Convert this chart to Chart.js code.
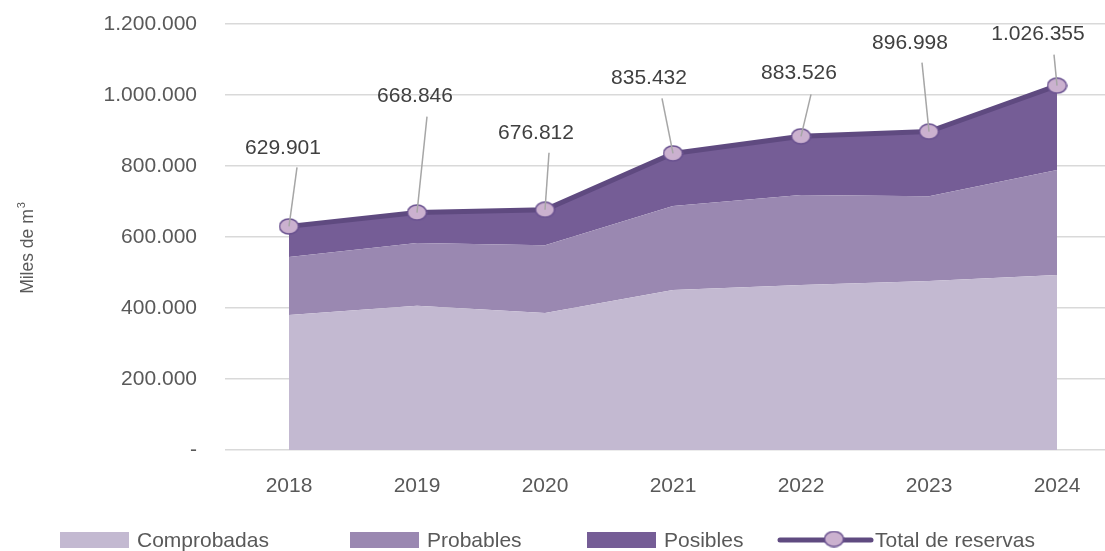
<!DOCTYPE html>
<html>
<head>
<meta charset="utf-8">
<script src="https://cdn.jsdelivr.net/npm/chart.js@4.4.1/dist/chart.umd.min.js"></script>
<style>
  html, body { margin: 0; padding: 0; background: #ffffff; }
  #wrap { width: 1105px; height: 551px; overflow: hidden; position: relative; }
  canvas { display: block; }
</style>
</head>
<body>
<div id="wrap"><canvas id="c" width="1134" height="551"></canvas></div>
<script>
// ---- data ----
const years = ['2018', '2019', '2020', '2021', '2022', '2023', '2024'];
const comprobadas = [380000, 406000, 386000, 451000, 465000, 476000, 493000];
const probables = [164000, 177000, 191000, 236000, 253000, 239000, 296000];
const posibles = [85901, 85846, 99812, 148432, 165526, 181998, 237355];
const totalReservas = [629901, 668846, 676812, 835432, 883526, 896998, 1026355];
const yTickValues = [0, 200000, 400000, 600000, 800000, 1000000, 1200000];
const seriesNames = ['Comprobadas', 'Probables', 'Posibles', 'Total de reservas'];
const axisTitle = 'Miles de m';
const axisTitleSup = '3';

// ---- layout / style constants (not data) ----
// label centre dx, dy and leader-line end dx, dy relative to each point
const labelLayout = [
  [-6, -78, 8, -59],
  [-2, -116, 10, -96],
  [-9, -77, 4, -57],
  [-24, -75, -11, -55],
  [-2, -63, 10, -42],
  [-19, -88, -7, -69],
  [-19, -51, -3, -31]
];
const legendStarts = [60, 350, 587, 778];
const FONT = '"Liberation Sans", Arial, Helvetica, sans-serif';
const colComp = '#c3b9d1';
const colProb = '#9a88b1';
const colPos = '#755d96';
const colLine = '#5f4a80';
const colPtFill = '#cbb1cf';
const colPtStroke = '#6a5290';

const fmt = v => v === 0 ? '-' : String(v).replace(/\B(?=(\d{3})+(?!\d))/g, '.');

function ellipseImg(w, h) {
  const c = document.createElement('canvas');
  c.width = w; c.height = h;
  const x = c.getContext('2d');
  x.beginPath();
  x.ellipse(w / 2, h / 2, w / 2 - 1, h / 2 - 1, 0, 0, Math.PI * 2);
  x.fillStyle = colPtFill;
  x.fill();
  x.lineWidth = 1.5;
  x.strokeStyle = colPtStroke;
  x.stroke();
  return c;
}
const ptImg = ellipseImg(21, 17);

Chart.defaults.font.family = FONT;
Chart.defaults.font.size = 21;
Chart.defaults.color = '#595959';

const labelPlugin = {
  id: 'totalLabels',
  afterDatasetsDraw(chart) {
    const meta = chart.getDatasetMeta(0);
    const data = chart.data.datasets[0].data;
    const ctx = chart.ctx;
    ctx.save();
    meta.data.forEach((pt, i) => {
      const o = labelLayout[i];
      ctx.strokeStyle = '#a6a6a6';
      ctx.lineWidth = 1.5;
      ctx.beginPath();
      ctx.moveTo(pt.x, pt.y);
      ctx.lineTo(pt.x + o[2], pt.y + o[3]);
      ctx.stroke();
      ctx.fillStyle = '#404040';
      ctx.font = '21px ' + FONT;
      ctx.textAlign = 'center';
      ctx.textBaseline = 'middle';
      ctx.fillText(fmt(data[i]), pt.x + o[0], pt.y + o[1]);
    });
    ctx.restore();
  }
};

const extrasPlugin = {
  id: 'extras',
  afterDraw(chart) {
    const ctx = chart.ctx;
    ctx.save();
    // y axis title
    ctx.translate(27, 248);
    ctx.rotate(-Math.PI / 2);
    ctx.fillStyle = '#595959';
    ctx.font = '17.5px ' + FONT;
    const wM = ctx.measureText(axisTitle).width;
    ctx.font = '11px ' + FONT;
    const wS = ctx.measureText(axisTitleSup).width;
    const sx = -(wM + wS + 1) / 2;
    ctx.textBaseline = 'alphabetic';
    ctx.textAlign = 'left';
    ctx.font = '17.5px ' + FONT;
    ctx.fillText(axisTitle, sx, 6);
    ctx.font = '11px ' + FONT;
    ctx.fillText(axisTitleSup, sx + wM + 1, -2);
    ctx.restore();

    // legend
    ctx.save();
    const ly = 540;
    const fills = [colComp, colProb, colPos];
    ctx.font = '21px ' + FONT;
    ctx.textBaseline = 'middle';
    ctx.textAlign = 'left';
    for (let i = 0; i < 3; i++) {
      const x0 = legendStarts[i];
      ctx.fillStyle = fills[i];
      ctx.fillRect(x0, ly - 8, 69, 16);
      ctx.fillStyle = '#595959';
      ctx.fillText(seriesNames[i], x0 + 77, ly + 1);
    }
    const x3 = legendStarts[3];
    ctx.strokeStyle = colLine;
    ctx.lineWidth = 5;
    ctx.lineCap = 'round';
    ctx.beginPath();
    ctx.moveTo(x3 + 2, ly);
    ctx.lineTo(x3 + 93, ly);
    ctx.stroke();
    ctx.drawImage(ptImg, x3 + 56 - ptImg.width / 2, ly - ptImg.height / 2 - 1);
    ctx.fillStyle = '#595959';
    ctx.fillText(seriesNames[3], x3 + 97, ly + 1);
    ctx.restore();
  }
};

new Chart(document.getElementById('c'), {
  type: 'line',
  data: {
    labels: years,
    datasets: [
      {
        label: seriesNames[3],
        data: totalReservas,
        stack: 'total',
        borderColor: colLine,
        borderWidth: 5,
        fill: false,
        pointStyle: ptImg,
        pointRadius: 8,
        pointHoverRadius: 8,
        tension: 0
      },
      {
        label: seriesNames[0],
        data: comprobadas,
        stack: 'areas',
        backgroundColor: colComp,
        borderWidth: 0,
        borderColor: 'rgba(0,0,0,0)',
        pointRadius: 0,
        fill: 'origin',
        tension: 0
      },
      {
        label: seriesNames[1],
        data: probables,
        stack: 'areas',
        backgroundColor: colProb,
        borderWidth: 0,
        borderColor: 'rgba(0,0,0,0)',
        pointRadius: 0,
        fill: '-1',
        tension: 0
      },
      {
        label: seriesNames[2],
        data: posibles,
        stack: 'areas',
        backgroundColor: colPos,
        borderWidth: 0,
        borderColor: 'rgba(0,0,0,0)',
        pointRadius: 0,
        fill: '-1',
        tension: 0
      }
    ]
  },
  options: {
    responsive: false,
    animation: false,
    devicePixelRatio: 1,
    layout: { padding: { top: 24, bottom: 0, left: 0, right: 0 } },
    plugins: {
      legend: { display: false },
      tooltip: { enabled: false }
    },
    scales: {
      x: {
        offset: true,
        stacked: true,
        grid: { display: false, drawTicks: false },
        border: { display: false },
        ticks: { padding: 24, color: '#595959', font: { size: 21 } },
        afterFit: s => { s.height = 101; }
      },
      y: {
        stacked: true,
        min: 0,
        max: 1200000,
        afterBuildTicks: s => { s.ticks = yTickValues.map(v => ({ value: v })); },
        grid: { color: '#d9d9d9', lineWidth: 1.5, drawTicks: false },
        border: { display: false },
        ticks: { padding: 28, color: '#595959', font: { size: 21 }, callback: v => fmt(v) },
        afterFit: s => { s.width = 225; s.paddingTop = 0; s.paddingBottom = 0; }
      }
    }
  },
  plugins: [labelPlugin, extrasPlugin]
});
</script>
</body>
</html>
